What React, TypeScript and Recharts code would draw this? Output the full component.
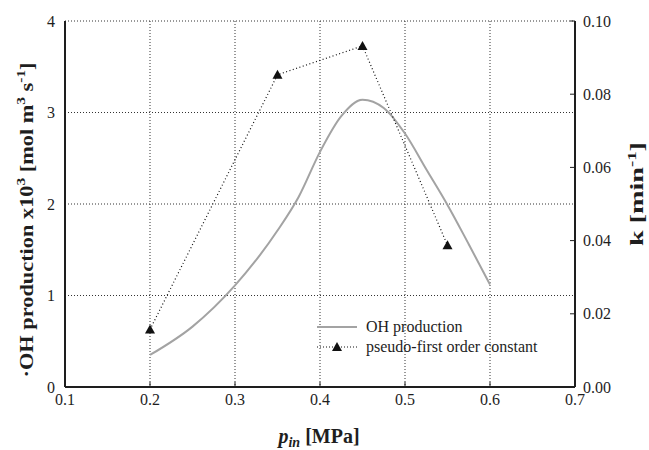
import React from "react";
import {
  ComposedChart,
  Line,
  XAxis,
  YAxis,
  CartesianGrid,
  Legend,
} from "recharts";

// inlet pressure ticks (MPa)
const pressureTicks = [0.1, 0.2, 0.3, 0.4, 0.5, 0.6, 0.7];
const ohTicks = [0, 1, 2, 3, 4];
const kTicks = [0, 0.02, 0.04, 0.06, 0.08, 0.1];

// OH production x10^3 [mol m^-3 s^-1]
const ohPressure = [0.2, 0.25, 0.3, 0.35, 0.375, 0.4, 0.425, 0.45, 0.475, 0.5, 0.525, 0.55, 0.575, 0.6];
const ohProduction = [0.35, 0.66, 1.11, 1.71, 2.08, 2.57, 2.96, 3.14, 3.05, 2.77, 2.38, 1.99, 1.56, 1.12];

// pseudo-first order constant k [min^-1]
const kPressure = [0.2, 0.35, 0.45, 0.55];
const kValues = [0.0157, 0.0853, 0.0932, 0.0387];

const ohData = ohPressure.map((p, i) => ({ p, oh: ohProduction[i] }));
const kData = kPressure.map((p, i) => ({ p, k: kValues[i] }));

const FONT = "'Liberation Serif', 'Times New Roman', serif";
const INK = "#1e1e1e";

const Triangle = (props: any) => {
  const { cx, cy } = props;
  if (cx == null || cy == null) return null;
  return (
    <path
      d={`M${cx - 5},${cy + 4} L${cx + 5},${cy + 4} L${cx},${cy - 5} Z`}
      fill="#111"
    />
  );
};

const BottomTick = (props: any) => {
  const { x, y, payload } = props;
  const axisY = y - 6;
  return (
    <g>
      <line x1={x} x2={x} y1={axisY} y2={axisY - 5} stroke={INK} strokeWidth={1} />
      <text x={x} y={y} dy="0.75em" textAnchor="middle" fontSize={16} fill={INK} fontFamily={FONT}>
        {payload.value.toFixed(1)}
      </text>
    </g>
  );
};

const RightTick = (props: any) => {
  const { x, y, payload } = props;
  const axisX = x - 8;
  return (
    <g>
      <line x1={axisX} x2={axisX - 5} y1={y} y2={y} stroke={INK} strokeWidth={1} />
      <text x={x} y={y} dy="0.35em" textAnchor="start" fontSize={16} fill={INK} fontFamily={FONT}>
        {payload.value.toFixed(2)}
      </text>
    </g>
  );
};

// the rotated labels in the source figure are stretched along their length
const LeftLabel = () => (
  <text
    transform="translate(33,220) rotate(-90)"
    textAnchor="middle"
    fontSize={19}
    fontWeight="bold"
    fill={INK}
    fontFamily={FONT}
    textLength={315}
    lengthAdjust="spacingAndGlyphs"
  >
    ·OH production x10
    <tspan dy={-8} fontSize={13}>3</tspan>
    <tspan dy={8}> [mol m</tspan>
    <tspan dy={-8} fontSize={13}>3</tspan>
    <tspan dy={8}> s</tspan>
    <tspan dy={-8} fontSize={13}>-1</tspan>
    <tspan dy={8}>]</tspan>
  </text>
);

const RightLabel = () => (
  <text
    transform="translate(643,194) rotate(-90)"
    textAnchor="middle"
    fontSize={18}
    fontWeight="bold"
    fill={INK}
    fontFamily={FONT}
    textLength={104}
    lengthAdjust="spacingAndGlyphs"
  >
    k [min
    <tspan dy={-7} fontSize={12}>-1</tspan>
    <tspan dy={7}>]</tspan>
  </text>
);

const BottomLabel = () => (
  <text x={319} y={443} textAnchor="middle" fontSize={20} fontWeight="bold" fill={INK} fontFamily={FONT}>
    <tspan fontStyle="italic">p</tspan>
    <tspan fontStyle="italic" fontSize={14} dy={4}>in</tspan>
    <tspan dy={-4}> [MPa]</tspan>
  </text>
);

const LegendBox = () => (
  <div style={{ fontFamily: FONT, fontSize: 16, color: INK, lineHeight: "20px" }}>
    <div style={{ display: "flex", alignItems: "center" }}>
      <svg width={51} height={20}>
        <line x1={2} x2={42} y1={10} y2={10} stroke="#a3a3a3" strokeWidth={2} />
      </svg>
      <span>OH production</span>
    </div>
    <div style={{ display: "flex", alignItems: "center" }}>
      <svg width={51} height={20}>
        <line x1={2} x2={42} y1={10} y2={10} stroke="#111" strokeWidth={1} strokeDasharray="1 2" />
        <path d="M17,14 L27,14 L22,5 Z" fill="#111" />
      </svg>
      <span>pseudo-first order constant</span>
    </div>
  </div>
);

export default function App() {
  return (
    <div style={{ position: "absolute", left: 0, top: 0, background: "#fff" }}>
      <ComposedChart
        width={649}
        height={450}
        margin={{ top: 21, right: 0, bottom: 0, left: 0 }}
        style={{ fontFamily: FONT }}
      >
        <CartesianGrid
          yAxisId="left"
          stroke="#333"
          strokeWidth={1}
          strokeDasharray="1 2"
        />
        <XAxis
          dataKey="p"
          type="number"
          domain={[0.1, 0.7]}
          ticks={pressureTicks}
          allowDataOverflow
          height={63}
          tickSize={0}
          tickMargin={6}
          tick={<BottomTick />}
          axisLine={{ stroke: INK, strokeWidth: 2 }}
          label={<BottomLabel />}
        />
        <XAxis
          xAxisId="top"
          orientation="top"
          type="number"
          domain={[0.1, 0.7]}
          height={0}
          tick={false}
          tickLine={false}
          axisLine={{ stroke: "#333", strokeWidth: 2 }}
        />
        <YAxis
          yAxisId="left"
          type="number"
          domain={[0, 4]}
          ticks={ohTicks}
          width={65}
          tickSize={0}
          tickMargin={10}
          tick={{ fontSize: 16, fill: INK, fontFamily: FONT }}
          axisLine={{ stroke: INK, strokeWidth: 2 }}
          label={<LeftLabel />}
        />
        <YAxis
          yAxisId="right"
          orientation="right"
          type="number"
          domain={[0, 0.1]}
          ticks={kTicks}
          width={74}
          tickSize={0}
          tickMargin={8}
          tick={<RightTick />}
          axisLine={{ stroke: INK, strokeWidth: 2 }}
          label={<RightLabel />}
        />
        <Legend
          layout="vertical"
          align="center"
          verticalAlign="middle"
          content={<LegendBox />}
          wrapperStyle={{ left: 315, top: 317, width: "auto" }}
        />
        <Line
          yAxisId="left"
          data={ohData}
          dataKey="oh"
          type="monotone"
          stroke="#a3a3a3"
          strokeWidth={2}
          dot={false}
          isAnimationActive={false}
        />
        <Line
          yAxisId="right"
          data={kData}
          dataKey="k"
          type="linear"
          stroke="#111"
          strokeWidth={1.2}
          strokeDasharray="1 2.5"
          dot={<Triangle />}
          isAnimationActive={false}
        />
      </ComposedChart>
    </div>
  );
}
